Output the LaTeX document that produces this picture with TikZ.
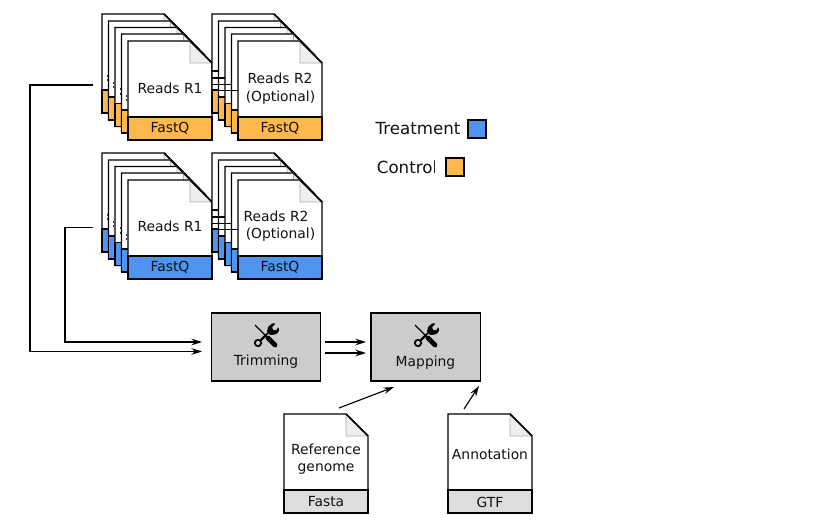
\documentclass[tikz,border=0pt]{standalone}
\usepackage{fontspec}
\setmainfont{DejaVu Sans}
\usetikzlibrary{arrows.meta}
\definecolor{ctrl}{HTML}{FFB84D}
\definecolor{treat}{HTML}{4F94EF}
\definecolor{proc}{HTML}{CCCCCC}
\definecolor{foot}{HTML}{DDDDDD}
\definecolor{fold}{HTML}{EEEEEE}
\definecolor{foldline}{HTML}{AAAAAA}
\definecolor{ink}{HTML}{111111}
\tikzset{
  page/.style={draw=black,fill=white,line width=1.1pt,line join=miter},
  pagefoot/.style={draw=black,line width=1.1pt},
  foldmark/.style={fill=fold,draw=foldline,line width=0.5pt},
  lbl/.style={inner sep=0pt,font=\fontsize{10.4pt}{12pt}\selectfont,text=ink},
  legendtxt/.style={inner sep=0pt,font=\fontsize{12.5pt}{14pt}\selectfont,text=ink},
  procbox/.style={draw=black,fill=proc,line width=1pt,minimum width=82pt,minimum height=51pt,inner sep=0pt},
  legendbox/.style={draw=black,line width=1pt,minimum width=13.5pt,minimum height=13.5pt,inner sep=0pt},
  conn/.style={draw=black,line width=0.85pt,-{Stealth[length=8pt,width=5pt,inset=2.8pt]}},
  tick/.style={draw=black,line width=0.8pt},
  scrap/.style={draw=black!80,line width=0.6pt,dash pattern=on 1.5pt off 1.6pt}
}
% #1 x, #2 y (top left), #3 footer colour
\newcommand{\docpage}[3]{%
  \path[page] (#1,#2) -- ++(62,0) -- ++(22,22) -- ++(0,77) -- ++(-84,0) -- cycle;
  \path[foldmark] (#1+62,#2) -- ++(0,22) -- ++(22,0) -- cycle;
  \draw[black,line width=1.1pt] (#1+62,#2) -- ++(22,22);
  \path[pagefoot,fill=#3] (#1,#2+76) rectangle ++(84,23);
}
% back page of a stack with the scrap of its hidden label
\newcommand{\backpage}[3]{%
  \docpage{#1}{#2}{#3}%
  \draw[scrap] (#1+5,#2+61) -- (#1+5,#2+69);
}
\newcommand{\readstack}[3]{%
  \foreach \dx/\dy in {0/0,6.5/7,13/13.5,19.5/20}{%
    \backpage{#1+\dx}{#2+\dy}{#3}%
  }%
  \docpage{#1+26}{#2+27}{#3}%
}
\newcommand{\readstackB}[3]{%
  \foreach \dx/\dy in {0/0,6.5/7,13/13.5,19.5/20}{%
    \docpage{#1+\dx}{#2+\dy}{#3}%
  }%
  \docpage{#1+26}{#2+27}{#3}%
  \foreach \dx/\dy in {6.5/57,13/64,19.5/70.5,26/76.5}{%
    \draw[tick] (#1,#2+\dy) -- (#1+\dx,#2+\dy);
  }%
}
% tools icon centred on #1,#2
\newcommand{\toolsicon}[2]{%
  \begin{scope}[shift={(#1,#2)}]
    \draw[black,line width=1.1pt] (-2,2) -- (2,-2);
    \fill[black,rounded corners=0.5pt] (1,-3) -- (2,-8) -- (6,-11.5) -- (9.5,-11.5) -- (6,-8) -- (7,-5) -- (10,-4.5) -- (12.5,-8) -- (13,-4) -- (10.5,-1) -- (6,0) -- (4,0) -- cycle;
    \draw[black,line width=1.3pt] (-8,8) circle[radius=3.2];
    \draw[black,line width=1.8pt] (-6,6) -- (0,0);
    \draw[black,line width=1pt] (-11,-10) -- (0,1);
    \draw[black,line width=3.6pt,line cap=round] (2,3) -- (9,10);
  \end{scope}
}
\begin{document}
\begin{tikzpicture}[x=0.75pt,y=-0.75pt]
\useasboundingbox (0,0) rectangle (822,524);
% sample stacks
\readstack{102}{14}{ctrl}
\readstackB{212}{14}{ctrl}
\readstack{102}{153}{treat}
\readstackB{212}{153}{treat}
% labels of the front pages
\node[lbl] (ctrlRone) at (170,88) {Reads R1};
\node[lbl] (ctrlRoneF) at (170,128) {FastQ};
\node[lbl] (ctrlRtwo) at (280,78.5) {Reads R2};
\node[lbl] (ctrlRtwoO) at (280.5,98) {(Optional)};
\node[lbl] (ctrlRtwoF) at (280,128) {FastQ};
\node[lbl] (treatRone) at (170,226.5) {Reads R1};
\node[lbl] (treatRoneF) at (170,267) {FastQ};
\node[lbl] (treatRtwo) at (276,216) {Reads R2};
\node[lbl] (treatRtwoO) at (280.5,235) {(Optional)};
\node[lbl] (treatRtwoF) at (280,267) {FastQ};
% legend
\node[legendtxt] (tlabel) at (418,129) {Treatment};
\node[legendbox,fill=treat] (tbox) at (477,129) {};
\begin{scope}
  \clip (370,150) rectangle (434.8,185);
  \node[legendtxt] (clabel) at (407,167) {Control};
\end{scope}
\node[legendbox,fill=ctrl] (cbox) at (455,167) {};
% process boxes
\node[procbox] (trim) at (266,347) {};
\node[procbox] (map) at (425.5,347) {};
\toolsicon{266}{335}
\toolsicon{426}{335}
\node[lbl] (trimtxt) at (266,361.5) {Trimming};
\node[lbl] (maptxt) at (425.5,362.5) {Mapping};
% reference documents
\docpage{284}{414}{foot}
\docpage{448}{414}{foot}
\node[lbl] (refa) at (326,449) {Reference};
\node[lbl] (refb) at (326,469.5) {genome};
\node[lbl] (refc) at (326,502) {Fasta};
\node[lbl] (anna) at (490,454) {Annotation};
\node[lbl] (annb) at (490,502) {GTF};
% connector ends
\coordinate (ctrlout) at (93,85);
\coordinate (ctrlin) at (202,351.5);
\coordinate (treatout) at (93,227.5);
\coordinate (treatin) at (202,342);
\coordinate (tma) at (325,342);
\coordinate (tmai) at (366,342);
\coordinate (tmb) at (325,353);
\coordinate (tmbi) at (366,353);
\coordinate (refout) at (339,408);
\coordinate (refin) at (394,387);
\coordinate (annout) at (464,409);
\coordinate (annin) at (479,386);
\draw[conn] (ctrlout) -- (30,85) -- (30,351.5) -- (ctrlin);
\draw[conn] (treatout) -- (65,227.5) -- (65,342) -- (treatin);
\draw[conn] (tma) -- (tmai);
\draw[conn] (tmb) -- (tmbi);
\draw[conn] (refout) -- (refin);
\draw[conn] (annout) -- (annin);
\end{tikzpicture}
\end{document}
